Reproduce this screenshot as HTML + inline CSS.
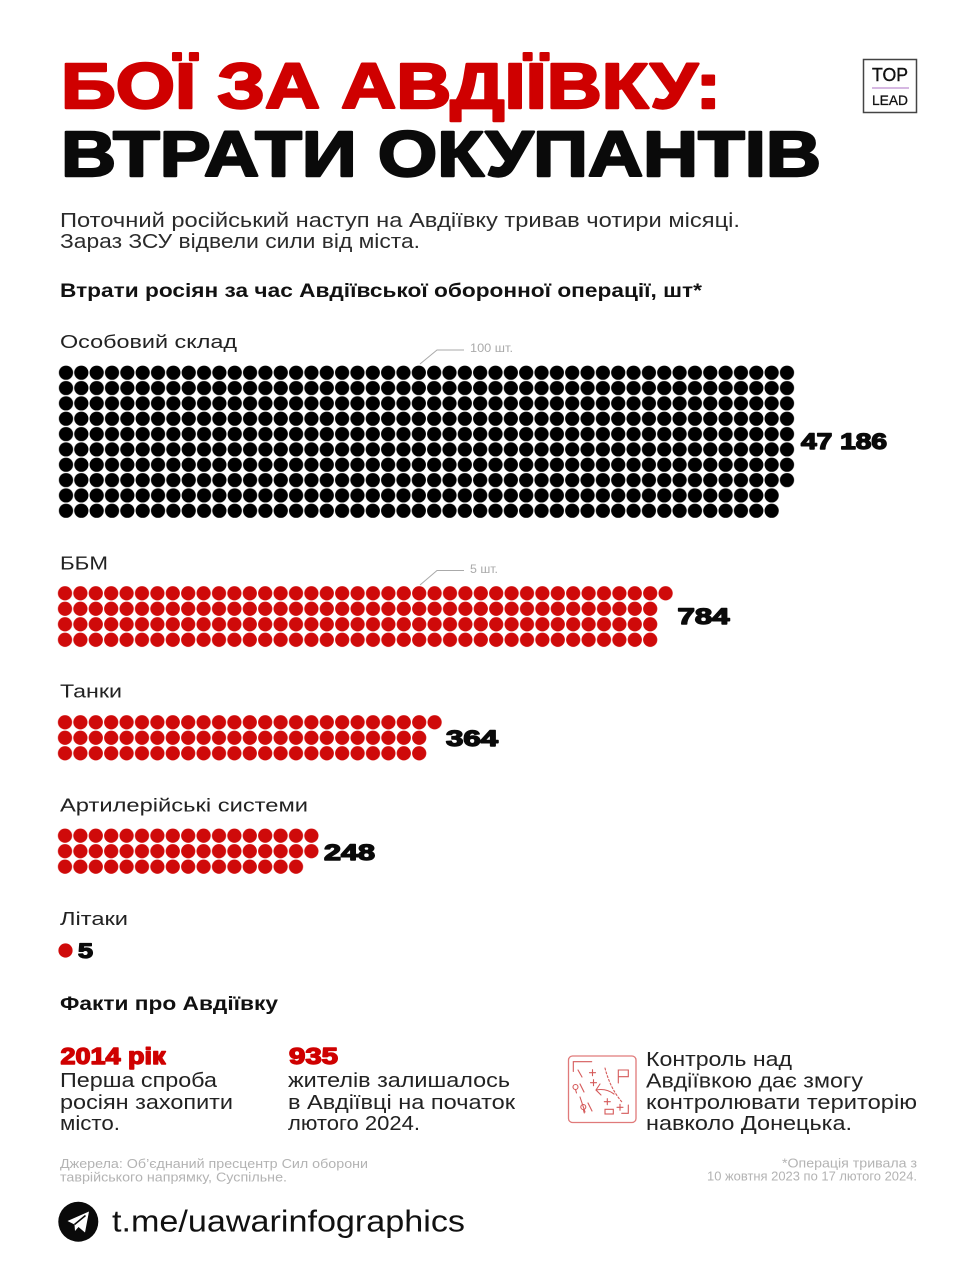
<!DOCTYPE html>
<html><head><meta charset="utf-8"><style>
html,body{margin:0;padding:0;background:#fff;}
svg{display:block;}
text{font-family:"Liberation Sans","DejaVu Sans",sans-serif;}
</style></head><body>
<svg width="976" height="1280" viewBox="0 0 976 1280" xmlns="http://www.w3.org/2000/svg">
<defs>
<pattern id="bk" patternUnits="userSpaceOnUse" x="58.33" y="365.03" width="15.34" height="15.34">
<circle cx="7.67" cy="7.67" r="7.1" fill="#000"/>
</pattern>
<pattern id="rd" patternUnits="userSpaceOnUse" x="0" y="0" width="15.4" height="15.5">
<circle cx="7.7" cy="7.75" r="7.1" fill="#cf0a0a"/>
</pattern>
</defs>
<rect width="976" height="1280" fill="#fff"/>

<!-- Title -->
<text x="61" y="108" font-size="64" font-weight="bold" fill="#cf0000" stroke="#cf0000" stroke-width="2.4" stroke-linejoin="round" textLength="660" lengthAdjust="spacingAndGlyphs">БОЇ ЗА АВДІЇВКУ:</text>
<text x="61" y="176" font-size="64" font-weight="bold" fill="#0a0a0a" stroke="#0a0a0a" stroke-width="2.4" stroke-linejoin="round" textLength="760" lengthAdjust="spacingAndGlyphs">ВТРАТИ ОКУПАНТІВ</text>

<!-- Logo -->
<rect x="863.5" y="59.5" width="53" height="53" fill="none" stroke="#444" stroke-width="1.5"/>
<text x="872" y="81" font-size="18" fill="#111" stroke="#111" stroke-width="0.4" textLength="36" lengthAdjust="spacingAndGlyphs">TOP</text>
<line x1="872" y1="88" x2="909" y2="88" stroke="#c9a0d8" stroke-width="1.5"/>
<text x="872" y="105" font-size="14" fill="#111" stroke="#111" stroke-width="0.3" textLength="36" lengthAdjust="spacingAndGlyphs">LEAD</text>

<!-- Subtitle -->
<text x="60" y="227" font-size="20" fill="#2b2b2b" textLength="680" lengthAdjust="spacingAndGlyphs">Поточний російський наступ на Авдіївку тривав чотири місяці.</text>
<text x="60" y="248" font-size="20" fill="#2b2b2b" textLength="360" lengthAdjust="spacingAndGlyphs">Зараз ЗСУ відвели сили від міста.</text>

<text x="60" y="297" font-size="19" font-weight="bold" fill="#111" textLength="642" lengthAdjust="spacingAndGlyphs">Втрати росіян за час Авдіївської оборонної операції, шт*</text>

<!-- Особовий склад -->
<text x="60" y="348" font-size="18.5" fill="#222" textLength="177" lengthAdjust="spacingAndGlyphs">Особовий склад</text>
<polyline points="420,364 437,350 464,350" fill="none" stroke="#aaa" stroke-width="1"/>
<text x="470" y="352" font-size="11.5" fill="#aaa" textLength="43" lengthAdjust="spacingAndGlyphs">100 шт.</text>
<rect x="58.33" y="365.03" width="736.32" height="122.72" fill="url(#bk)"/>
<rect x="58.33" y="487.75" width="720.98" height="30.68" fill="url(#bk)"/>
<text x="801" y="449" font-size="22" font-weight="bold" fill="#0a0a0a" stroke="#0a0a0a" stroke-width="1.4" stroke-linejoin="round" textLength="86" lengthAdjust="spacingAndGlyphs">47 186</text>

<!-- ББМ -->
<text x="60" y="569.3" font-size="18.5" fill="#222" textLength="48" lengthAdjust="spacingAndGlyphs">ББМ</text>
<polyline points="420,585 437,570.5 464,570.5" fill="none" stroke="#aaa" stroke-width="1"/>
<text x="470" y="573" font-size="11.5" fill="#aaa" textLength="28" lengthAdjust="spacingAndGlyphs">5 шт.</text>
<g transform="translate(57.3,585.55)">
<rect x="0" y="0" width="616" height="15.5" fill="url(#rd)"/>
<rect x="0" y="15.5" width="600.6" height="46.5" fill="url(#rd)"/>
</g>
<text x="677.5" y="624" font-size="22" font-weight="bold" fill="#0a0a0a" stroke="#0a0a0a" stroke-width="1.4" stroke-linejoin="round" textLength="52" lengthAdjust="spacingAndGlyphs">784</text>

<!-- Танки -->
<text x="60" y="697.3" font-size="18.5" fill="#222" textLength="62" lengthAdjust="spacingAndGlyphs">Танки</text>
<g transform="translate(57.3,714.55)">
<rect x="0" y="0" width="385" height="15.5" fill="url(#rd)"/>
<rect x="0" y="15.5" width="369.6" height="31" fill="url(#rd)"/>
</g>
<text x="446" y="746" font-size="22" font-weight="bold" fill="#0a0a0a" stroke="#0a0a0a" stroke-width="1.4" stroke-linejoin="round" textLength="52" lengthAdjust="spacingAndGlyphs">364</text>

<!-- Артилерія -->
<text x="60" y="811.7" font-size="18.5" fill="#222" textLength="248" lengthAdjust="spacingAndGlyphs">Артилерійські системи</text>
<g transform="translate(57.3,827.95)">
<rect x="0" y="0" width="261.8" height="31" fill="url(#rd)"/>
<rect x="0" y="31" width="246.4" height="15.5" fill="url(#rd)"/>
</g>
<text x="324" y="860" font-size="22" font-weight="bold" fill="#0a0a0a" stroke="#0a0a0a" stroke-width="1.4" stroke-linejoin="round" textLength="51" lengthAdjust="spacingAndGlyphs">248</text>

<!-- Літаки -->
<text x="60" y="925" font-size="18.5" fill="#222" textLength="68" lengthAdjust="spacingAndGlyphs">Літаки</text>
<circle cx="65.5" cy="950.5" r="7.1" fill="#cf0a0a"/>
<text x="78" y="958" font-size="21" font-weight="bold" fill="#0a0a0a" stroke="#0a0a0a" stroke-width="1.3" stroke-linejoin="round" textLength="15" lengthAdjust="spacingAndGlyphs">5</text>

<!-- Факти -->
<text x="60" y="1010" font-size="19" font-weight="bold" fill="#111" textLength="218" lengthAdjust="spacingAndGlyphs">Факти про Авдіївку</text>

<text x="60.5" y="1064" font-size="23" font-weight="bold" fill="#cf0000" stroke="#cf0000" stroke-width="1.4" stroke-linejoin="round" textLength="105" lengthAdjust="spacingAndGlyphs">2014 рік</text>
<text x="60" y="1087" font-size="20" fill="#222" textLength="157" lengthAdjust="spacingAndGlyphs">Перша спроба</text>
<text x="60" y="1109" font-size="20" fill="#222" textLength="173" lengthAdjust="spacingAndGlyphs">росіян захопити</text>
<text x="60" y="1130" font-size="20" fill="#222" textLength="60" lengthAdjust="spacingAndGlyphs">місто.</text>

<text x="289" y="1064" font-size="23" font-weight="bold" fill="#cf0000" stroke="#cf0000" stroke-width="1.4" stroke-linejoin="round" textLength="49" lengthAdjust="spacingAndGlyphs">935</text>
<text x="288" y="1087" font-size="20" fill="#222" textLength="222" lengthAdjust="spacingAndGlyphs">жителів залишалось</text>
<text x="288" y="1109" font-size="20" fill="#222" textLength="227" lengthAdjust="spacingAndGlyphs">в Авдіївці на початок</text>
<text x="288" y="1130" font-size="20" fill="#222" textLength="132" lengthAdjust="spacingAndGlyphs">лютого 2024.</text>

<!-- Icon -->
<g fill="none" stroke="#d55a5a" stroke-width="1.1" stroke-linecap="round">
<rect x="568.5" y="1056" width="67.5" height="66.5" rx="4" stroke="#e07a7a" stroke-width="1.3"/>
<polyline points="573.3,1071.5 573.3,1061.7 591.7,1061.7"/>
<line x1="578" y1="1070" x2="582" y2="1077"/>
<line x1="589.5" y1="1072.7" x2="595.5" y2="1072.7"/><line x1="592.5" y1="1069.7" x2="592.5" y2="1075.7"/>
<line x1="590.5" y1="1082.7" x2="596.5" y2="1082.7"/><line x1="593.5" y1="1079.7" x2="593.5" y2="1085.7"/>
<circle cx="575.5" cy="1087" r="2.5"/><line x1="575.5" y1="1089.5" x2="576.5" y2="1093"/>
<line x1="580" y1="1084" x2="584" y2="1092"/>
<polyline points="618.3,1083 618.3,1070 628.3,1070 628.3,1076.7 618.3,1076.7"/>
<path d="M605,1068 Q610,1088 621.7,1101.7" stroke-dasharray="2,2"/>
<polyline points="600,1084 596,1090 601,1095"/>
<path d="M596,1090 Q606,1088 614,1094"/>
<line x1="604.3" y1="1101.7" x2="610.3" y2="1101.7"/><line x1="607.3" y1="1098.7" x2="607.3" y2="1104.7"/>
<line x1="617" y1="1107.3" x2="623" y2="1107.3"/><line x1="620" y1="1104.3" x2="620" y2="1110.3"/>
<rect x="605" y="1109.3" width="8.3" height="4.7"/>
<polyline points="628.3,1105 628.3,1113.3 621.7,1113.3"/>
<circle cx="583.3" cy="1107" r="2.5"/><line x1="583.3" y1="1109.5" x2="584.3" y2="1113"/>
<line x1="580" y1="1097" x2="585" y2="1112"/>
<line x1="588" y1="1103" x2="592" y2="1111"/>
</g>
<text x="646" y="1066" font-size="20" fill="#222" textLength="146" lengthAdjust="spacingAndGlyphs">Контроль над</text>
<text x="646" y="1087.3" font-size="20" fill="#222" textLength="217" lengthAdjust="spacingAndGlyphs">Авдіївкою дає змогу</text>
<text x="646" y="1109" font-size="20" fill="#222" textLength="271" lengthAdjust="spacingAndGlyphs">контролювати територію</text>
<text x="646" y="1130" font-size="20" fill="#222" textLength="206" lengthAdjust="spacingAndGlyphs">навколо Донецька.</text>

<!-- Sources -->
<text x="60" y="1168" font-size="12.5" fill="#b3b3b3" textLength="308" lengthAdjust="spacingAndGlyphs">Джерела: Об’єднаний пресцентр Сил оборони</text>
<text x="60" y="1181.5" font-size="12.5" fill="#b3b3b3" textLength="227" lengthAdjust="spacingAndGlyphs">таврійського напрямку, Суспільне.</text>
<text x="782" y="1167.3" font-size="12.5" fill="#b3b3b3" textLength="135" lengthAdjust="spacingAndGlyphs">*Операція тривала з</text>
<text x="707" y="1180.7" font-size="12.5" fill="#b3b3b3" textLength="210" lengthAdjust="spacingAndGlyphs">10 жовтня 2023 по 17 лютого 2024.</text>

<!-- Telegram -->
<circle cx="78.3" cy="1221.7" r="20" fill="#0a0a0a"/>
<path d="M67.5,1221 L89,1211.5 L85,1232.5 L78.5,1227 L75,1231 L74.5,1224.5 Z" fill="#fff"/>
<path d="M74.5,1224.5 L85.5,1215.5" stroke="#0a0a0a" stroke-width="1.5" fill="none"/>
<text x="112" y="1231.7" font-size="31" fill="#111" textLength="353" lengthAdjust="spacingAndGlyphs">t.me/uawarinfographics</text>
</svg>
</body></html>
